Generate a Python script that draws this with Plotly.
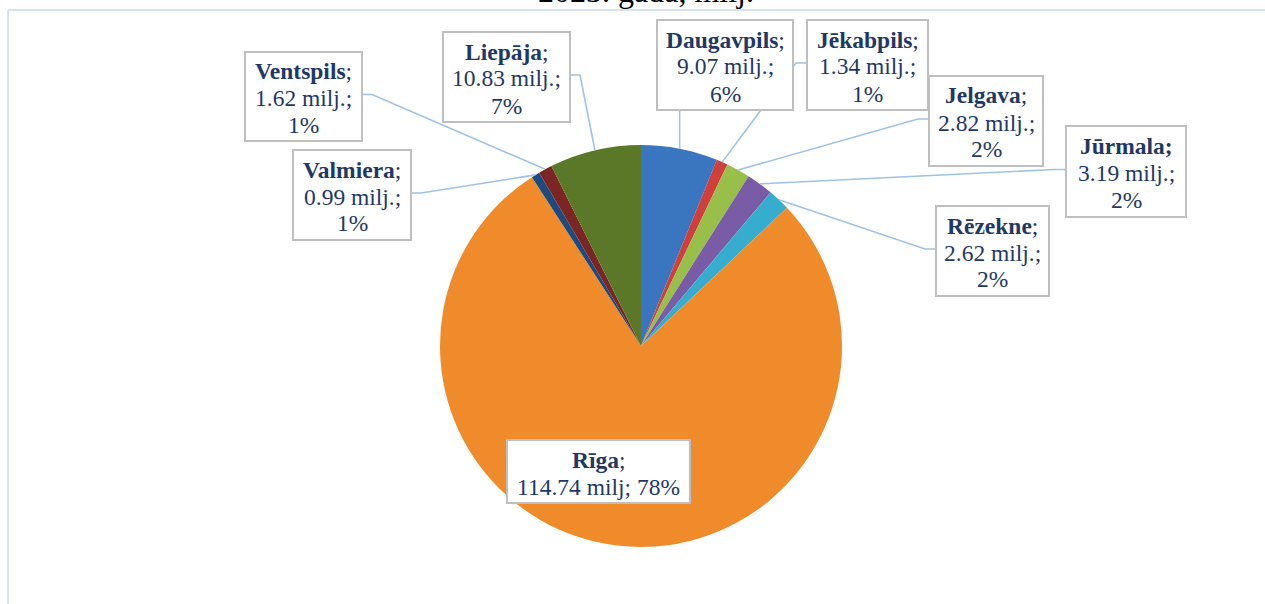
import math
import plotly.graph_objects as go

# ---------------- data ----------------
cities = ["Daugavpils", "Jēkabpils", "Jelgava", "Jūrmala", "Rēzekne",
          "Rīga", "Valmiera", "Ventspils", "Liepāja"]
values = [9.07, 1.34, 2.82, 3.19, 2.62, 114.74, 0.99, 1.62, 10.83]
colors = ["#3A76C0", "#CF3F3B", "#97BF4A", "#7A5BA5", "#36ADCE",
          "#F08B2C", "#1F4A7E", "#7B2525", "#5B7828"]
title_line = "2023. gada, milj."

# ---------------- layout geometry (px) ----------------
W, H = 1265, 604
CX, CY, R = 641, 346, 201
FONT = "Liberation Serif, Times New Roman, serif"
TXT = "#1F3864"

# label boxes: left, top, right, bottom, connector side
boxes = {
    "Daugavpils": (657, 20, 793, 110, "bottom"),
    "Jēkabpils": (807, 20, 928, 110, "left"),
    "Jelgava": (929, 76, 1043, 166, "left"),
    "Jūrmala": (1066, 126, 1186, 217, "left"),
    "Rēzekne": (936, 206, 1049, 296, "left"),
    "Rīga": (507, 440, 690, 503, None),
    "Valmiera": (293, 150, 411, 240, "right"),
    "Ventspils": (245, 52, 362, 141, "right"),
    "Liepāja": (443, 32, 570, 122, "right"),
}


def px(x):
    return x / W


def py(y):
    return 1 - y / H


total = sum(values)

fig = go.Figure(go.Pie(
    labels=cities, values=values, sort=False, direction="clockwise",
    rotation=0, textinfo="none", hoverinfo="label+value+percent",
    marker=dict(colors=colors, line=dict(width=0)),
    domain=dict(x=[px(CX - R), px(CX + R)], y=[py(CY + R), py(CY - R)]),
    showlegend=False,
))

shapes = []
annotations = []

# frame lines
shapes.append(dict(type="line", xref="paper", yref="paper",
                   x0=px(8), x1=px(W + 5), y0=py(10), y1=py(10),
                   line=dict(color="#D9E2F3", width=2)))
shapes.append(dict(type="line", xref="paper", yref="paper",
                   x0=px(8), x1=px(8), y0=py(10), y1=py(H + 5),
                   line=dict(color="#D9E2F3", width=2)))

# leader lines (anchor derived from slice mid-angle)
cum = 0.0
for city, v in zip(cities, values):
    mid = (cum + v / 2) / total
    cum += v
    l, t, r, b, side = boxes[city]
    if side is None:
        continue
    ang = 2 * math.pi * mid
    ax = CX + R * math.sin(ang)
    ay = CY - R * math.cos(ang)
    my = (t + b) / 2 - 2
    if side == "bottom":
        pts = [(ax, ay), (ax, b)]
    elif side == "left":
        pts = [(ax, ay), (l - 11, my), (l, my)]
    else:
        pts = [(ax, ay), (r + 10, my), (r, my)]
    path = "M " + " L ".join(f"{px(x):.5f},{py(y):.5f}" for x, y in pts)
    shapes.append(dict(type="path", xref="paper", yref="paper", path=path,
                       line=dict(color="#9DC3E6", width=1.6)))

# label boxes + text
for city, v in zip(cities, values):
    l, t, r, b, side = boxes[city]
    shapes.append(dict(type="rect", xref="paper", yref="paper",
                       x0=px(l), x1=px(r), y0=py(b), y1=py(t),
                       fillcolor="white", line=dict(color="#BFBFBF", width=2)))
    pct = round(v / total * 100)
    if city == "Rīga":
        lines = [f"<b>{city}</b>;", f"{v:.2f} milj; {pct}%"]
    elif city == "Jūrmala":
        lines = [f"<b>{city};</b>", f"{v:.2f} milj.;", f"{pct}%"]
    else:
        lines = [f"<b>{city}</b>;", f"{v:.2f} milj.;", f"{pct}%"]
    n = len(lines)
    cy = (t + b) / 2 + 1.5
    sp = 27
    for i, txt in enumerate(lines):
        yy = cy + (i - (n - 1) / 2) * sp
        annotations.append(dict(xref="paper", yref="paper", x=px((l + r) / 2),
                                y=py(yy), xanchor="center", yanchor="middle",
                                text=txt, showarrow=False,
                                font=dict(family=FONT, size=23.5, color=TXT)))

# clipped title line at the top (the reference shows only its lower part)
annotations.append(dict(xref="paper", yref="paper", x=px(646), y=py(-9.5),
                        xanchor="center", yanchor="middle", text=title_line,
                        showarrow=False,
                        font=dict(family=FONT, size=32, color="#000000")))

fig.update_layout(
    width=W, height=H, margin=dict(l=0, r=0, t=0, b=0),
    paper_bgcolor="white", plot_bgcolor="white",
    shapes=shapes, annotations=annotations,
)

fig.write_html("out.html", config={"displayModeBar": False},
               post_script="document.body.style.margin='0';document.body.style.overflow='hidden';")
